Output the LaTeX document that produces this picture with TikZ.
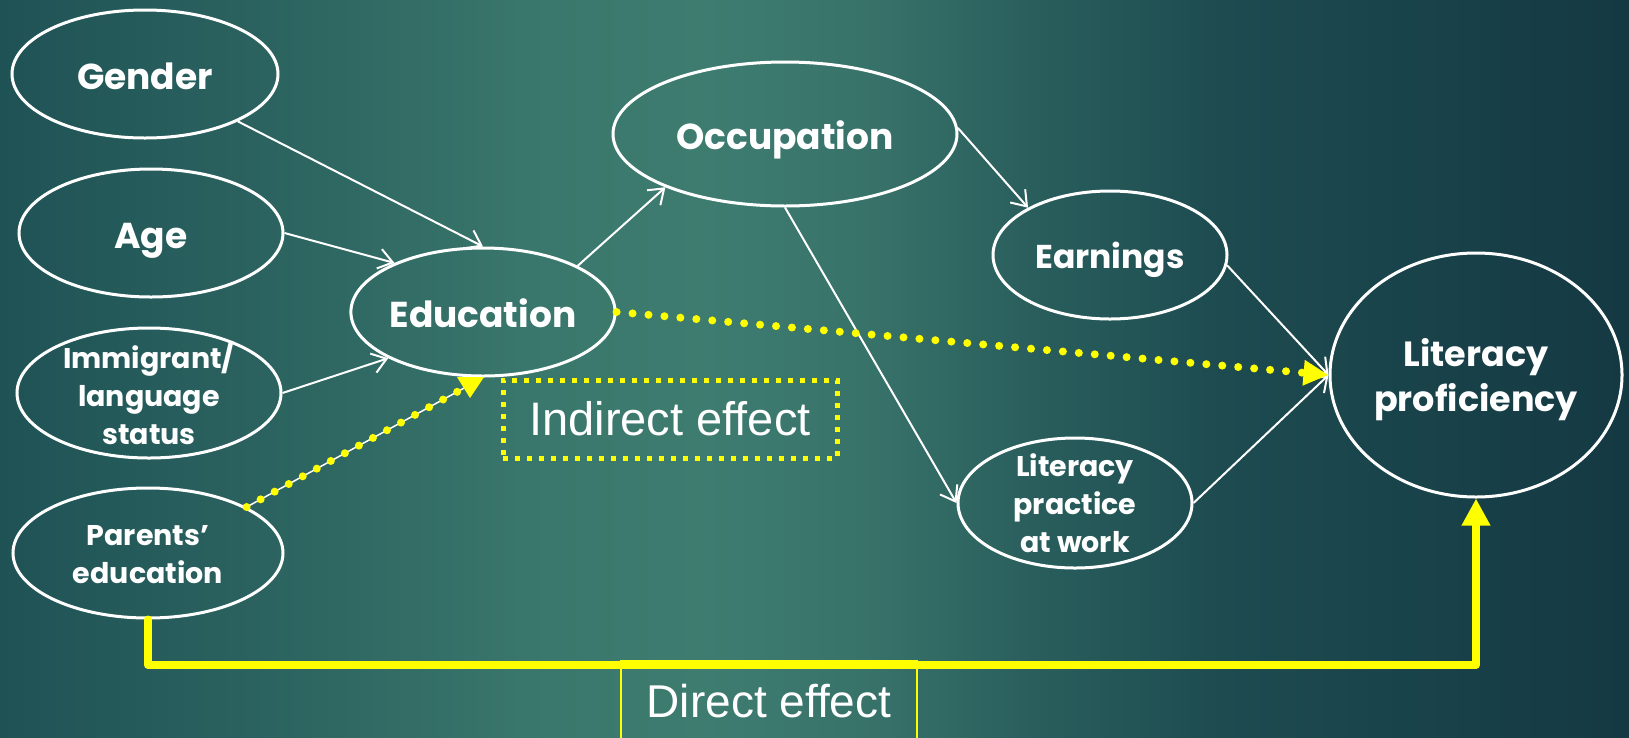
\documentclass[tikz,border=0pt]{standalone}
\usepackage{fontspec}
\setmainfont{Poppins}
\newfontfamily\arialf{Liberation Sans}
\usetikzlibrary{shapes.geometric,arrows.meta}
\definecolor{bgA}{RGB}{31,82,85}
\definecolor{bgB}{RGB}{45,101,97}
\definecolor{bgB2}{RGB}{57,118,107}
\definecolor{bgC}{RGB}{62,124,112}
\definecolor{bgC2}{RGB}{56,115,106}
\definecolor{bgD}{RGB}{42,95,93}
\definecolor{bgE}{RGB}{29,75,80}
\definecolor{bgF}{RGB}{20,56,66}
\definecolor{ylw}{RGB}{255,255,0}
\pgfdeclarehorizontalshading{bgshade}{745bp}{color(0bp)=(bgA); color(300bp)=(bgB); color(520bp)=(bgB2); color(700bp)=(bgC); color(860bp)=(bgC2); color(1020bp)=(bgD); color(1220bp)=(bgE); color(1640bp)=(bgF)}
\tikzset{
  ell/.style={ellipse, draw=white, line width=3pt, inner sep=0pt, text=white, align=center},
  big/.style={font=\fontsize{36pt}{44pt}\selectfont\bfseries, text=white, align=center, text height=30pt, text depth=0pt},
  mid/.style={font=\fontsize{33pt}{40pt}\selectfont\bfseries, text=white, align=center, text height=27pt, text depth=0pt},
  lit/.style={font=\fontsize{35pt}{45pt}\selectfont\bfseries, text=white, align=center},
  small/.style={font=\fontsize{28.5pt}{38pt}\selectfont\bfseries, text=white, align=center},
  warr/.style={draw=white, line width=2pt, -{Straight Barb[length=14pt,width=20pt]}},
  ydots/.style={draw=ylw, line width=8pt, line cap=round, dash pattern=on 0pt off 16pt},
  ydirect/.style={draw=ylw, line width=8pt, line cap=round, line join=round, -{Triangle[length=27pt,width=27pt]}},
  ibox/.style={draw=ylw, line width=5pt, dash pattern=on 5pt off 7pt, minimum width=334pt, minimum height=78pt, inner sep=0pt, text=white, font=\arialf\fontsize{47pt}{56pt}\selectfont},
  dbox/.style={draw=ylw, line width=1.5pt, minimum width=296pt, minimum height=80pt, inner sep=0pt, text=white, font=\arialf\fontsize{46pt}{55pt}\selectfont}
}
\begin{document}
\begin{tikzpicture}[x=1pt,y=-1pt]
\useasboundingbox (0,0) rectangle (1629,737);
\begin{scope}
\clip (0,0) rectangle (1629,737);
\pgftext[at={\pgfpoint{0pt}{-740pt}},left,bottom]{\pgfuseshading{bgshade}}
\end{scope}

% nodes
\node[ell, big, minimum width=266pt, minimum height=128pt] (gender) at (145,74) {Gender};
\node[ell, big, minimum width=264pt, minimum height=128pt] (age) at (151,233) {Age};
\node[ell, minimum width=264pt, minimum height=130pt, label={[small, name=immt]center:Immigrant/\\language\\status}] (imm) at (149,393) {};
\node[ell, minimum width=270pt, minimum height=130pt, label={[small, name=part, yshift=-2pt]center:Parents’\\education}] (par) at (148,553) {};
\node[ell, big, minimum width=260pt, minimum height=128pt] (edu) at (483,312) {Education};
\node[ell, big, minimum width=344pt, minimum height=144pt] (occ) at (785,134) {Occupation};
\node[ell, mid, minimum width=234pt, minimum height=128pt] (earn) at (1110,255) {Earnings};
\node[ell, minimum width=234pt, minimum height=130pt, label={[small, name=lpt]center:Literacy\\practice\\at work}] (lp) at (1075,503) {};
\node[ell, minimum width=292pt, minimum height=244pt, label={[lit, name=litt, yshift=-5pt]center:Literacy\\proficiency}] (litp) at (1476,375) {};

\node[ibox] (ind) at (670,419) {Indirect effect};
\node[dbox] (dir) at (769,701) {Direct effect};

% white arrows
\draw[warr] (gender) -- (edu.north);
\draw[warr] (age.east) -- (edu.151);
\draw[warr] (imm.east) -- (edu.206);
\draw[warr] (edu.26) -- (occ.204);
\draw[warr] (occ.2) -- (earn.150);
\draw[warr] (occ.south) -- (lp.west);
\draw[warr] (earn.-5) -- (litp.west);
\draw[warr] (lp.east) -- (litp.west);

% indirect effect (dotted)
\coordinate (ptip) at (466,387);
\draw[white, line width=1.5pt] (par.25) -- (ptip);
\draw[ydots] (par.25) -- (ptip);
\fill[ylw] (457,377) -- (484,377) -- (470,398) -- cycle;
\draw[ydots, -{Triangle[length=25pt,width=24pt]}] (edu.east) -- (litp.west);

% direct effect
\coordinate (base) at (0,665);
\draw[ydirect] (par.south) -- (par.south |- base) -- (litp.south |- base) -- (litp.south);
\end{tikzpicture}
\end{document}
